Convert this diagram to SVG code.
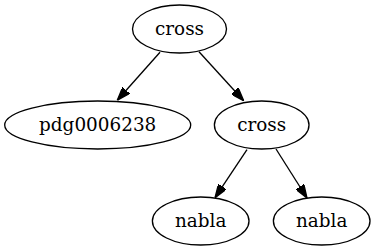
<svg xmlns="http://www.w3.org/2000/svg" width="376" height="251" viewBox="0 0 376 251">
<style>
.node ellipse{fill:none;stroke:#000;stroke-width:1.33}
.node text{font-family:"DejaVu Serif","Liberation Serif",serif;font-size:18.4px;text-anchor:middle;fill:#000}
.edge line{stroke:#000;stroke-width:1.33}
</style>
<defs>
<marker id="arr" viewBox="0 0 10 7" refX="10" refY="3.5" markerWidth="13.33" markerHeight="9.33" markerUnits="userSpaceOnUse" orient="auto">
<path d="M0,0 L10,3.5 L0,7 z" fill="#000" stroke="#000" stroke-width="1"/>
</marker>
</defs>
<rect width="376" height="251" fill="#fff"/>
<g id="edges" class="edge">
<line x1="160" y1="52.3" x2="117.3" y2="100.3" marker-end="url(#arr)"/>
<line x1="199" y1="51.7" x2="243.7" y2="100.7" marker-end="url(#arr)"/>
<line x1="247" y1="149.7" x2="215" y2="197.7" marker-end="url(#arr)"/>
<line x1="276" y1="149" x2="307" y2="198" marker-end="url(#arr)"/>
</g>
<g id="n_root" class="node">
<ellipse cx="179.5" cy="29" rx="47" ry="24"/>
<text x="179.5" y="34.5">cross</text>
</g>
<g id="n_pdg" class="node">
<ellipse cx="97.7" cy="125" rx="93" ry="24"/>
<text x="97.7" y="130.5">pdg0006238</text>
</g>
<g id="n_cross2" class="node">
<ellipse cx="261.7" cy="125" rx="47.3" ry="24"/>
<text x="261.7" y="130.5">cross</text>
</g>
<g id="n_nabla1" class="node">
<ellipse cx="200.7" cy="221" rx="48.3" ry="24"/>
<text x="200.7" y="226.5">nabla</text>
</g>
<g id="n_nabla2" class="node">
<ellipse cx="321.7" cy="221" rx="48.3" ry="24"/>
<text x="321.7" y="226.5">nabla</text>
</g>
</svg>
